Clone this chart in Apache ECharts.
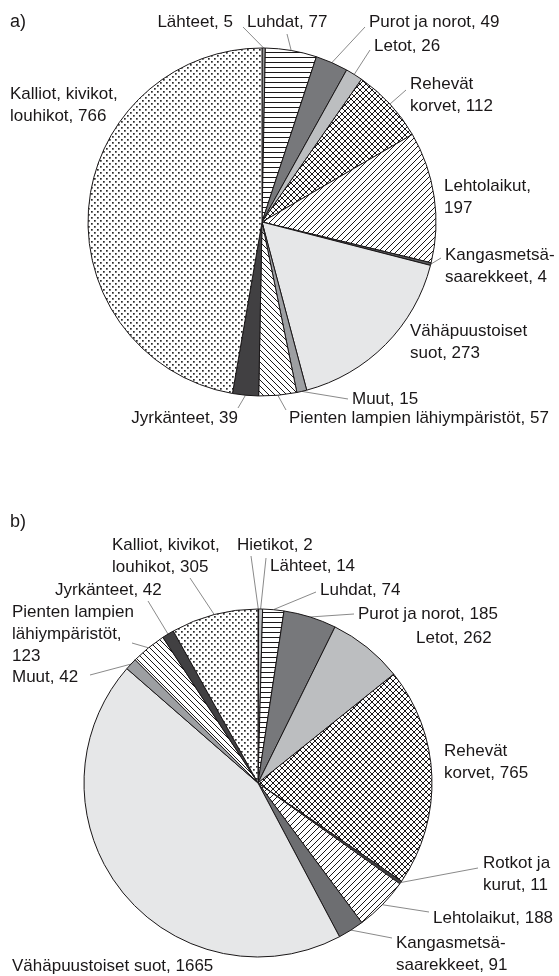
<!DOCTYPE html>
<html>
<head>
<meta charset="utf-8">
<script src="https://cdn.jsdelivr.net/npm/echarts@6/dist/echarts.min.js"></script>
<style>
  html, body { margin: 0; padding: 0; background: #fff; }
  #chart { width: 559px; height: 976px; }
</style>
</head>
<body>
<div id="chart"></div>
<script>
// a) habitat types, counts
const namesA = ['Lähteet', 'Luhdat', 'Purot ja norot', 'Letot', 'Rehevät\nkorvet', 'Lehtolaikut',
  'Kangasmetsä-\nsaarekkeet', 'Vähäpuustoiset\nsuot', 'Muut', 'Pienten lampien lähiympäristöt',
  'Jyrkänteet', 'Kalliot, kivikot,\nlouhikot']
const valuesA = [5, 77, 49, 26, 112, 197, 4, 273, 15, 57, 39, 766]

// b) habitat types, counts
const namesB = ['Hietikot', 'Lähteet', 'Luhdat', 'Purot ja norot', 'Letot', 'Rehevät\nkorvet',
  'Rotkot ja\nkurut', 'Lehtolaikut', 'Kangasmetsä-\nsaarekkeet', 'Vähäpuustoiset suot', 'Muut',
  'Pienten lampien\nlähiympäristöt', 'Jyrkänteet', 'Kalliot, kivikot,\nlouhikot']
const valuesB = [2, 14, 74, 185, 262, 765, 11, 188, 91, 1665, 42, 123, 42, 305]

// fills: plain colours or pattern keys
const fillsA = ['#9a9a9a', 'hline', '#77787b', '#bcbec0', 'cross', 'diagR', '#58595b', '#e6e7e8',
  '#9d9fa2', 'diagL', '#414042', 'dots']
const fillsB = ['#ffffff', '#bcbec0', 'hline', '#77787b', '#bcbec0', 'cross', '#414042', 'diagR',
  '#6d6e71', '#e6e7e8', '#9d9fa2', 'diagL', '#414042', 'dots']

// label placement: [align, x, first line centre y, separator, leader line end]
const layoutA = [
  ['right', 233, 22, ', ', [243, 27]],
  ['left', 247, 22, ', ', [287, 34]],
  ['left', 369, 22, ', ', [365, 27]],
  ['left', 374, 46, ', ', [370, 50]],
  ['left', 410, 84, ', ', [406, 90]],
  ['left', 444, 186, ',\n', null],
  ['left', 445, 255, ', ', [441, 258]],
  ['left', 410, 331, ', ', null],
  ['left', 352, 399, ', ', [348, 399]],
  ['left', 289, 418, ', ', [286, 410]],
  ['right', 238, 418, ', ', [238, 408]],
  ['left', 10, 94, ', ', null]
]
const layoutB = [
  ['left', 237, 545, ', ', [251, 556]],
  ['left', 270, 566, ', ', [266, 558]],
  ['left', 320, 590, ', ', [316, 592]],
  ['left', 358, 614, ', ', [354, 614]],
  ['left', 416, 638, ', ', null],
  ['left', 444, 751, ', ', null],
  ['left', 483, 863, ', ', [478, 868]],
  ['left', 433, 918, ', ', [429, 912]],
  ['left', 396, 943, ', ', [392, 938]],
  ['left', 12, 966, ', ', null],
  ['left', 12, 677, ', ', [90, 675]],
  ['left', 12, 612, ',\n', [132, 643]],
  ['left', 55, 590, ', ', [148, 601]],
  ['left', 112, 545, ', ', [190, 578]]
]

const FONT = 'Liberation Sans'
const INK = '#1a1718'

function tile (w, h, draw) {
  const c = document.createElement('canvas')
  c.width = w
  c.height = h
  const g = c.getContext('2d')
  g.fillStyle = '#fff'
  g.fillRect(0, 0, w, h)
  g.strokeStyle = INK
  g.fillStyle = INK
  g.lineWidth = 1
  draw(g)
  return { image: c, repeat: 'repeat' }
}

function line (g, x1, y1, x2, y2) {
  g.beginPath()
  g.moveTo(x1, y1)
  g.lineTo(x2, y2)
  g.stroke()
}

const patterns = {
  hline: tile(4, 5, g => { g.fillRect(0, 2, 4, 1) }),
  diagR: tile(6, 6, g => {
    line(g, -1, 7, 7, -1); line(g, -1, 1, 1, -1); line(g, 5, 7, 7, 5)
  }),
  diagL: tile(6, 6, g => {
    line(g, -1, -1, 7, 7); line(g, 5, -1, 7, 1); line(g, -1, 5, 1, 7)
  }),
  cross: tile(6, 6, g => {
    line(g, -1, 7, 7, -1); line(g, -1, 1, 1, -1); line(g, 5, 7, 7, 5)
    line(g, -1, -1, 7, 7); line(g, 5, -1, 7, 1); line(g, -1, 5, 1, 7)
  }),
  dots: tile(6, 6, g => {
    g.fillStyle = '#2a2a2a'
    g.fillRect(1, 1, 1.7, 1.7)
    g.fillRect(4, 4, 1.7, 1.7)
  })
}

function buildData (names, values, fills, layout) {
  return values.map((v, i) => ({
    name: names[i],
    value: v,
    itemStyle: { color: patterns[fills[i]] || fills[i] },
    labelLine: { show: !!layout[i][4] }
  }))
}

function placeLabels (layout) {
  return function (params) {
    const l = layout[params.dataIndex]
    const res = { x: l[1], y: l[2] - 11, align: l[0], verticalAlign: 'top' }
    if (l[4] && params.labelLinePoints) {
      res.labelLinePoints = [params.labelLinePoints[0].slice(), l[4].slice()]
    }
    return res
  }
}

function pieSeries (names, values, fills, layout, center) {
  return {
    type: 'pie',
    center: center,
    radius: 174,
    startAngle: 90,
    clockwise: true,
    avoidLabelOverlap: false,
    silent: true,
    itemStyle: { borderColor: INK, borderWidth: 1 },
    label: {
      show: true,
      position: 'outside',
      overflow: 'none',
      fontFamily: FONT,
      fontSize: 17,
      lineHeight: 22,
      color: INK,
      formatter: p => p.name + layout[p.dataIndex][3] + p.value
    },
    labelLine: {
      show: true,
      length: 8,
      length2: 8,
      lineStyle: { color: '#8a8a8a', width: 1 }
    },
    labelLayout: placeLabels(layout),
    data: buildData(names, values, fills, layout)
  }
}

const chart = echarts.init(document.getElementById('chart'))
chart.setOption({
  backgroundColor: '#ffffff',
  animation: false,
  graphic: [
    { type: 'text', left: 10, top: 13, style: { text: 'a)', font: '18px ' + FONT, fill: INK } },
    { type: 'text', left: 10, top: 513, style: { text: 'b)', font: '18px ' + FONT, fill: INK } }
  ],
  series: [
    pieSeries(namesA, valuesA, fillsA, layoutA, [262, 222]),
    pieSeries(namesB, valuesB, fillsB, layoutB, [258, 783])
  ]
})
</script>
</body>
</html>
